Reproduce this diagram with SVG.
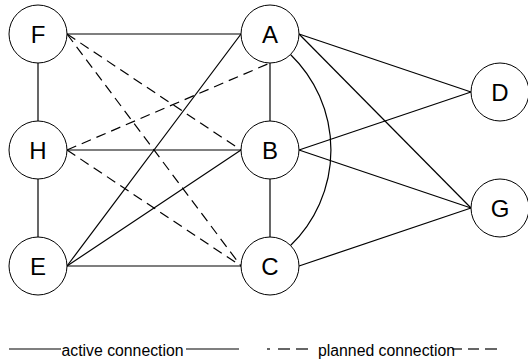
<svg xmlns="http://www.w3.org/2000/svg" width="528" height="362" viewBox="0 0 528 362">
  <style>
    .node circle { fill: #fff; stroke: #000; stroke-width: 1; }
    .node text { font-family: "Liberation Sans", Arial, sans-serif; font-size: 24px; text-anchor: middle; fill: #000; }
    .active { stroke: #000; stroke-width: 1.2; fill: none; }
    .planned { stroke: #000; stroke-width: 1.2; fill: none; stroke-dasharray: 10 6; }
    .legend { font-family: "Liberation Sans", Arial, sans-serif; font-size: 15.8px; fill: #000; }
  </style>
  <rect width="528" height="362" fill="#fff"/>

  <!-- connections -->
  <g id="connectors">
    <!-- active -->
    <line class="active" x1="67" y1="34" x2="241" y2="34"/>
    <line class="active" x1="38" y1="63" x2="38" y2="121"/>
    <line class="active" x1="38" y1="179" x2="38" y2="237"/>
    <line class="active" x1="270" y1="63" x2="270" y2="121"/>
    <line class="active" x1="270" y1="179" x2="270" y2="237"/>
    <line class="active" x1="67" y1="150" x2="241" y2="150"/>
    <line class="active" x1="67" y1="266" x2="241" y2="266"/>
    <line class="active" x1="67" y1="266" x2="241" y2="34"/>
    <line class="active" x1="67" y1="266" x2="241" y2="150"/>
    <line class="active" x1="299" y1="34" x2="471" y2="92"/>
    <line class="active" x1="299" y1="34" x2="471" y2="208"/>
    <line class="active" x1="299" y1="150" x2="471" y2="92"/>
    <line class="active" x1="299" y1="150" x2="471" y2="208"/>
    <line class="active" x1="299" y1="266" x2="471" y2="208"/>
    <path class="active" d="M 290.5 54.5 A 133 133 0 0 1 290.5 245.5"/>
    <!-- planned -->
    <line class="planned" x1="67" y1="34" x2="241" y2="150"/>
    <line class="planned" x1="67" y1="34" x2="241" y2="266"/>
    <line class="planned" x1="67" y1="150" x2="270" y2="63"/>
    <line class="planned" x1="67" y1="150" x2="241" y2="266"/>
  </g>

  <!-- nodes -->
  <g id="node-F" class="node"><circle cx="38" cy="34" r="29"/><text x="38" y="42.5">F</text></g>
  <g id="node-A" class="node"><circle cx="270" cy="34" r="29"/><text x="270" y="42.5">A</text></g>
  <g id="node-H" class="node"><circle cx="38" cy="150" r="29"/><text x="38" y="158.5">H</text></g>
  <g id="node-B" class="node"><circle cx="270" cy="150" r="29"/><text x="270" y="158.5">B</text></g>
  <g id="node-E" class="node"><circle cx="38" cy="266" r="29"/><text x="38" y="274.5">E</text></g>
  <g id="node-C" class="node"><circle cx="270" cy="266" r="29"/><text x="270" y="274.5">C</text></g>
  <g id="node-D" class="node"><circle cx="500" cy="92" r="29"/><text x="500" y="100.5">D</text></g>
  <g id="node-G" class="node"><circle cx="500" cy="208" r="29"/><text x="500" y="216.5">G</text></g>

  <!-- legend -->
  <g id="legend">
    <line class="active" x1="9" y1="349" x2="61" y2="349"/>
    <text class="legend" x="61.5" y="355.5">active connection</text>
    <line class="active" x1="186" y1="349" x2="239" y2="349"/>
    <line class="active" x1="267" y1="349" x2="270" y2="349"/>
    <line class="active" x1="278" y1="349" x2="290" y2="349"/>
    <line class="active" x1="296" y1="349" x2="308" y2="349"/>
    <text class="legend" x="318" y="355.5">planned connection</text>
    <line class="active" x1="452" y1="349" x2="462" y2="349"/>
    <line class="active" x1="468" y1="349" x2="479" y2="349"/>
    <line class="active" x1="485" y1="349" x2="497" y2="349"/>
  </g>
</svg>
